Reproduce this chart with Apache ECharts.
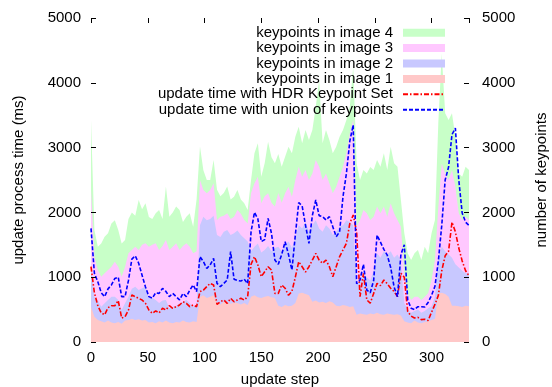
<!DOCTYPE html>
<html>
<head>
<meta charset="utf-8">
<script src="https://cdn.jsdelivr.net/npm/echarts@6/dist/echarts.min.js"></script>
<style>
html, body { margin: 0; padding: 0; background: #fff; }
#chart { width: 552px; height: 387px; }
</style>
</head>
<body>
<div id="chart"></div>
<script>
// update step (sampled every 3 steps)
var steps = [
    0, 3, 6, 9, 12, 15, 18, 21, 24, 27,
    30, 33, 36, 39, 42, 45, 48, 51, 54, 57,
    60, 63, 66, 69, 72, 75, 78, 81, 84, 87,
    90, 93, 96, 99, 102, 105, 108, 111, 114, 117,
    120, 123, 126, 129, 132, 135, 138, 141, 144, 147,
    150, 153, 156, 159, 162, 165, 168, 171, 174, 177,
    180, 183, 186, 189, 192, 195, 198, 201, 204, 207,
    210, 213, 216, 219, 222, 225, 228, 231, 234, 237,
    240, 243, 246, 249, 252, 255, 258, 261, 264, 267,
    270, 273, 276, 279, 282, 285, 288, 291, 294, 297,
    300, 303, 306, 309, 312, 315, 318, 321, 324, 327,
    330, 333
];

// keypoints, cumulative: image 1 .. up to image 4 (drawn as stacked bands)
var upToImage4 = [
    3425, 1730, 1470, 1520, 1625, 1680, 1830, 1880, 1730, 1520,
    1575, 1900, 2000, 1950, 2190, 2050, 2140, 1930, 1900, 1985,
    2037, 1900, 2400, 1934, 2000, 2090, 2037, 1850, 1934, 1985,
    1780, 2200, 3017, 2650, 2500, 2500, 2808, 2350, 2250, 2300,
    2400, 2200, 2243, 2346, 2200, 2140, 2037, 2500, 2911, 3066,
    2550, 2757, 3090, 2850, 2757, 2900, 2705, 2860, 3014, 2911,
    3168, 3322, 3066, 3270, 3117, 3270, 3630, 4040, 3066, 3270,
    3117, 2911, 3014, 3168, 3270, 3425, 3630, 4250, 2757, 2500,
    2654, 2600, 2700, 2654, 2808, 2705, 2911, 2654, 3014, 2757,
    2705, 2191, 1677, 1368, 1265, 1368, 1420, 1265, 1471, 1368,
    1677, 1883, 3400, 4450, 3530, 3425, 3530, 3168, 2600, 2550,
    2705, 2654
];
var upToImage3 = [
    2346, 1317, 1111, 1008, 1060, 1111, 1162, 1240, 1162, 1008,
    1162, 1368, 1420, 1471, 1420, 1500, 1522, 1471, 1500, 1522,
    1420, 1480, 1574, 1420, 1470, 1522, 1420, 1480, 1522, 1471,
    1368, 1400, 2500, 2346, 2294, 2346, 2449, 1883, 1934, 1950,
    1985, 1900, 1934, 2037, 1980, 1883, 1830, 2300, 2450, 2550,
    2140, 2250, 2294, 2150, 2090, 2300, 2150, 2294, 2397, 2243,
    2500, 2705, 2550, 2654, 2500, 2600, 2808, 2705, 2500, 2600,
    2449, 2294, 2397, 2550, 2705, 2911, 3220, 3425, 1780, 1883,
    2037, 1985, 1883, 1934, 2090, 1985, 2090, 1934, 2140, 1985,
    1883, 1780, 1060, 754, 650, 700, 700, 650, 700, 754,
    957, 1265, 2090, 2750, 2600, 2500, 2654, 2397, 1985, 1883,
    1934, 1883
];
var upToImage2 = [
    1162, 700, 648, 545, 597, 648, 700, 700, 648, 494,
    597, 700, 820, 854, 802, 830, 854, 700, 680, 648,
    600, 640, 648, 520, 545, 560, 597, 620, 648, 597,
    545, 580, 1800, 1934, 1880, 1900, 1950, 1650, 1620, 1700,
    1730, 1650, 1680, 1720, 1650, 1600, 1550, 1400, 1470, 1520,
    1380, 1420, 1480, 1400, 1450, 1471, 1400, 1500, 1550, 1450,
    1600, 1800, 1750, 1850, 1700, 1800, 1880, 1750, 1700, 1800,
    1750, 1650, 1700, 1780, 1800, 1880, 1850, 1800, 900, 950,
    1060, 1000, 950, 1100, 1368, 1300, 1400, 1350, 1400, 1300,
    1350, 1250, 600, 500, 450, 480, 500, 450, 480, 520,
    550, 700, 1300, 1470, 1400, 1350, 1300, 1200, 1150, 1100,
    1060, 1060
];
var image1 = [
    545, 390, 340, 320, 300, 330, 300, 290, 310, 280,
    330, 340, 360, 340, 350, 330, 340, 300, 310, 290,
    320, 300, 330, 300, 290, 310, 300, 330, 310, 300,
    320, 310, 700, 720, 680, 700, 720, 600, 580, 620,
    600, 590, 610, 600, 580, 600, 570, 700, 720, 690,
    680, 700, 710, 690, 680, 560, 540, 570, 550, 560,
    600, 750, 760, 740, 720, 620, 640, 610, 620, 600,
    630, 610, 560, 550, 570, 560, 540, 550, 420, 440,
    430, 420, 440, 430, 450, 430, 420, 440, 430, 420,
    430, 410, 320, 300, 290, 330, 300, 290, 310, 320,
    340, 360, 750, 760, 740, 700, 560, 560, 550, 540,
    560, 550
];

// update time (ms)
var hdrTime = [
    1162, 760, 560, 450, 420, 530, 560, 560, 640, 370,
    391, 494, 725, 700, 674, 648, 597, 494, 442, 480,
    450, 520, 494, 560, 520, 545, 571, 622, 597, 545,
    571, 545, 777, 800, 854, 905, 880, 580, 622, 648,
    597, 674, 622, 648, 674, 648, 700, 1200, 1317, 1188,
    1008, 1085, 1162, 1111, 750, 750, 880, 830, 720, 780,
    1000, 1240, 1162, 1080, 1162, 1265, 1368, 1265, 1214, 1265,
    1162, 1008, 1162, 1317, 1420, 1522, 1831, 1960, 1700, 700,
    1060, 648, 600, 750, 905, 870, 957, 900, 830, 780,
    700, 1060, 1000, 470, 400, 370, 380, 345, 350, 330,
    460, 580, 720, 1100, 1330, 1400, 1850, 1700, 1450, 1250,
    1100, 1020
];
var unionTime = [
    1754, 1060, 930, 760, 700, 820, 880, 980, 1000, 700,
    700, 950, 1280, 1330, 1215, 1030, 850, 700, 675, 760,
    750, 828, 780, 700, 750, 700, 650, 750, 700, 800,
    880, 777, 1317, 1240, 1137, 1190, 1290, 905, 854, 905,
    957, 1394, 970, 950, 940, 970, 900, 1700, 2000, 1900,
    1550, 1580, 1908, 1677, 1265, 1200, 1350, 1548, 1350, 1111,
    1650, 2150, 2100, 1800, 1522, 1950, 2191, 1950, 1934, 1883,
    1934, 1780, 1625, 1700, 2243, 2600, 3100, 3350, 900, 957,
    1200, 800, 760, 950, 1650, 1540, 1430, 1340, 1150, 850,
    700, 1350, 1500, 650, 520, 500, 545, 545, 540, 610,
    720, 860, 1250, 1800, 2500, 2700, 3200, 3300, 2500, 1990,
    1850, 1800
];

var yTicks = [0, 1000, 2000, 3000, 4000, 5000];

function pairs(vals) {
    return steps.map(function (s, i) { return [s, vals[i]]; });
}

var font = '"Liberation Sans", Arial, Helvetica, sans-serif';
var txt = { fontSize: 15, color: '#000', fontFamily: font };
var plain = function (v) { return String(v); };
var tick = { show: true, inside: true, length: 5, lineStyle: { color: '#000', width: 1 } };
var hiddenLine = { show: true, onZero: false, lineStyle: { color: '#000', opacity: 0 } };

function band(name, vals, color) {
    return {
        name: name, type: 'line', yAxisIndex: 1, data: pairs(vals),
        symbol: 'none', silent: true,
        lineStyle: { width: 0 },
        itemStyle: { color: color },
        areaStyle: { color: color, opacity: 1 }
    };
}

var chart = echarts.init(document.getElementById('chart'));

var option = {
    animation: false,
    backgroundColor: '#fff',
    grid: { left: 91, right: 83, top: 18, bottom: 45, containLabel: false, outerBoundsMode: 'none' },
    legend: {
        orient: 'vertical', right: 101, top: 20, align: 'right',
        itemWidth: 42, itemHeight: 8, itemGap: 0,
        textStyle: { fontSize: 15, color: '#000', fontFamily: font, lineHeight: 15.4, padding: [0, 5, 0, 0] },
        data: [
            { name: 'keypoints in image 4', icon: 'rect' },
            { name: 'keypoints in image 3', icon: 'rect' },
            { name: 'keypoints in image 2', icon: 'rect' },
            { name: 'keypoints in image 1', icon: 'rect' },
            { name: 'update time with HDR Keypoint Set', itemStyle: { opacity: 0 } },
            { name: 'update time with union of keypoints', itemStyle: { opacity: 0 } }
        ]
    },
    xAxis: [
        {
            type: 'value', min: 0, max: 333, interval: 50, position: 'bottom',
            axisLine: { show: false, onZero: false }, axisTick: { show: false }, splitLine: { show: false },
            axisLabel: { fontSize: 15, color: '#000', fontFamily: font, margin: 8, showMaxLabel: false, formatter: plain },
            name: 'update step', nameLocation: 'middle', nameGap: 30, nameTextStyle: txt
        },
        {
            type: 'value', min: 0, max: 333, interval: 50, position: 'top', z: 10,
            axisLine: hiddenLine, splitLine: { show: false }, axisLabel: { show: false },
            axisTick: tick
        }
    ],
    yAxis: [
        {
            type: 'value', min: yTicks[0], max: yTicks[yTicks.length - 1], interval: 1000, position: 'left', z: 10,
            axisLine: { show: false, onZero: false }, splitLine: { show: false }, axisTick: tick,
            axisLabel: { fontSize: 15, color: '#000', fontFamily: font, margin: 10, formatter: plain },
            name: 'update process time (ms)', nameLocation: 'middle', nameGap: 65, nameRotate: 90, nameTextStyle: txt
        },
        {
            type: 'value', min: yTicks[0], max: yTicks[yTicks.length - 1], interval: 1000, position: 'right', z: 10,
            axisLine: { show: false, onZero: false }, splitLine: { show: false }, axisTick: tick,
            axisLabel: { fontSize: 15, color: '#000', fontFamily: font, margin: 13, formatter: plain },
            name: 'number of keypoints', nameLocation: 'middle', nameGap: 65, nameRotate: 90, nameTextStyle: txt
        }
    ],
    series: [
        band('keypoints in image 4', upToImage4, '#c8ffc8'),
        band('keypoints in image 3', upToImage3, '#ffc8ff'),
        band('keypoints in image 2', upToImage2, '#c8c8ff'),
        band('keypoints in image 1', image1, '#ffc8c8'),
        {
            name: 'update time with HDR Keypoint Set', type: 'line', yAxisIndex: 0,
            data: pairs(hdrTime), symbol: 'none',
            itemStyle: { color: '#ff0000' },
            lineStyle: { color: '#ff0000', width: 1.6, type: [5, 2, 1.5, 2] }
        },
        {
            name: 'update time with union of keypoints', type: 'line', yAxisIndex: 0,
            data: pairs(unionTime), symbol: 'none',
            itemStyle: { color: '#0000ff' },
            lineStyle: { color: '#0000ff', width: 1.6, type: [4, 2] }
        }
    ]
};

chart.setOption(option);
</script>
</body>
</html>
